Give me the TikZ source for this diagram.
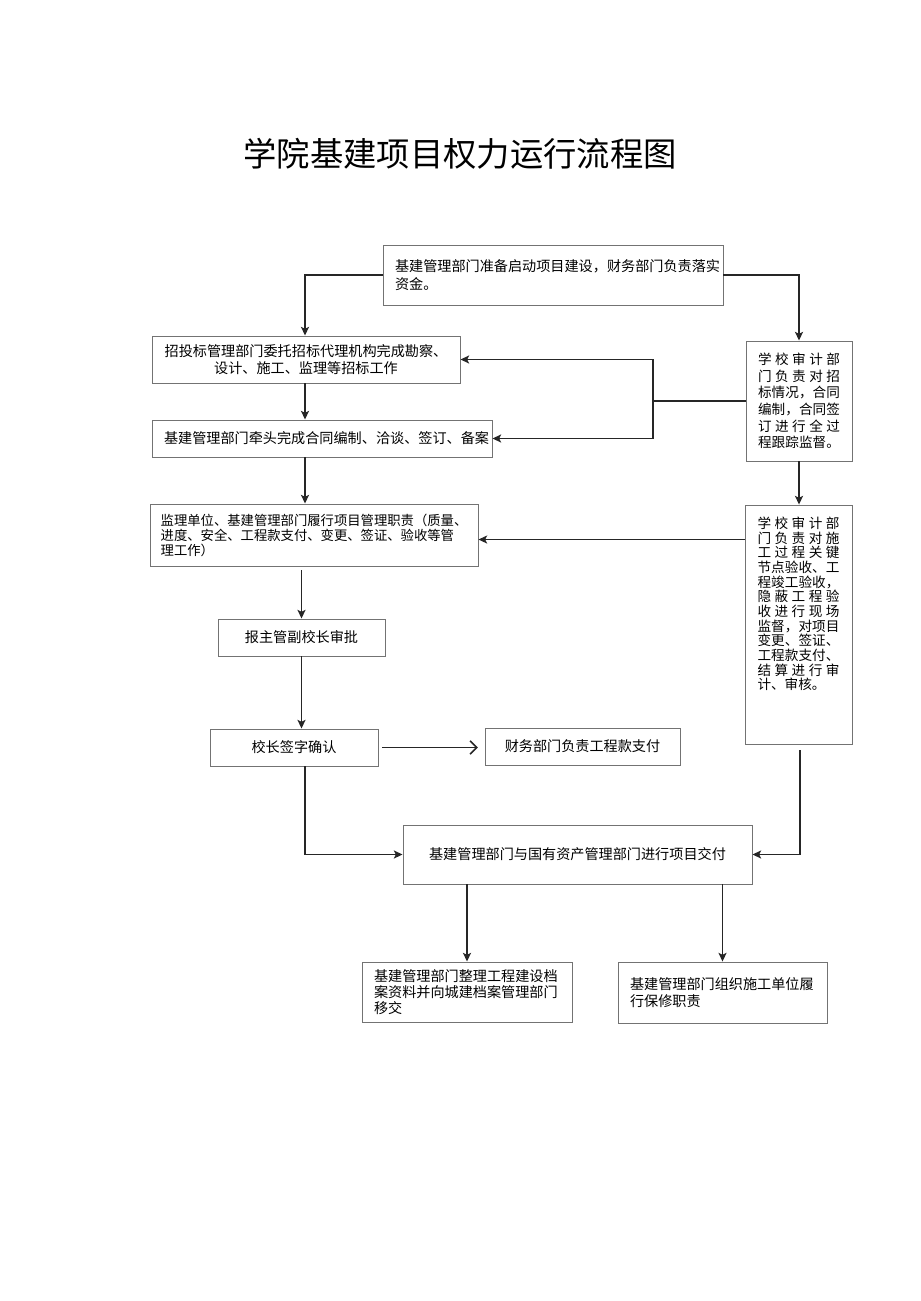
\documentclass[tikz,border=0pt]{standalone}
\usepackage{fontspec}
\setmainfont{Noto Sans CJK SC}
\usetikzlibrary{arrows.meta,calc}
\newcommand\dl[1]{\makebox[61.5pt][s]{#1}}
\begin{document}
\begin{tikzpicture}[x=0.75pt,y=-0.75pt,
  box/.style={draw=black!55,line width=0.7pt,fill=white,inner xsep=9pt,inner ysep=0pt,
    font=\fontsize{10.6pt}{12.5pt}\selectfont},
  arr/.style={draw=black!85,line width=1.2pt,-{Stealth[length=6.5pt,width=6pt,inset=1.5pt]}},
  ln/.style={draw=black!85,line width=1.2pt},
  open/.style={draw=black!85,line width=1.2pt,-{Straight Barb[length=5pt,width=10pt,line width=1.2pt]}}]
\useasboundingbox[fill=white] (0,0) rectangle (920,1301);

\node[font=\fontsize{25pt}{30pt}\selectfont] (title) at (460,154) {学院基建项目权力运行流程图};

\node[box,text width=237pt,minimum height=45pt,align=left,font=\fontsize{10.6pt}{13.5pt}\selectfont] (top) at (553,275)
  {基建管理部门准备启动项目建设，财务部门负责落实\\资金。\\[2pt]};
\node[box,text width=213pt,minimum height=35.25pt,align=center] (A) at (306,359.5)
  {招投标管理部门委托招标代理机构完成勘察、\\设计、施工、监理等招标工作};
\node[box,text width=237pt,minimum height=27.75pt,align=center] (B) at (322,438.5)
  {基建管理部门牵头完成合同编制、洽谈、签订、备案};
\node[box,text width=61.5pt,minimum height=90pt,inner xsep=9pt,align=left,
  font=\fontsize{10.2pt}{12.5pt}\selectfont] (R1) at (799,401)
  {\dl{学\hfill 校\hfill 审\hfill 计\hfill 部}\\
   \dl{门\hfill 负\hfill 责\hfill 对\hfill 招}\\
   \dl{标\hfill 情\hfill 况\hfill ，\hfill 合\hfill 同}\\
   \dl{编\hfill 制\hfill ，\hfill 合\hfill 同\hfill 签}\\
   \dl{订\hfill 进\hfill 行\hfill 全\hfill 过}\\
   \dl{程\hfill 跟\hfill 踪\hfill 监\hfill 督\hfill 。}};
\node[box,text width=230pt,minimum height=46.5pt,inner xsep=8pt,align=left,
  font=\fontsize{10pt}{11.3pt}\selectfont] (C) at (314,535)
  {监理单位、基建管理部门履行项目管理职责（质量、\\进度、安全、工程款支付、变更、签证、验收等管\\理工作）};
\node[box,minimum width=80.25pt,minimum height=179.25pt] (R2) at (798.5,624.5) {};
\node[anchor=north,inner sep=0pt,align=left,font=\fontsize{10.2pt}{11pt}\selectfont] (R2t) at ($(R2.north)+(0,12)$)
  {\dl{学\hfill 校\hfill 审\hfill 计\hfill 部}\\
   \dl{门\hfill 负\hfill 责\hfill 对\hfill 施}\\
   \dl{工\hfill 过\hfill 程\hfill 关\hfill 键}\\
   \dl{节\hfill 点\hfill 验\hfill 收\hfill 、\hfill 工}\\
   \dl{程\hfill 竣\hfill 工\hfill 验\hfill 收\hfill ，}\\
   \dl{隐\hfill 蔽\hfill 工\hfill 程\hfill 验}\\
   \dl{收\hfill 进\hfill 行\hfill 现\hfill 场}\\
   \dl{监\hfill 督\hfill ，\hfill 对\hfill 项\hfill 目}\\
   \dl{变\hfill 更\hfill 、\hfill 签\hfill 证\hfill 、}\\
   \dl{工\hfill 程\hfill 款\hfill 支\hfill 付\hfill 、}\\
   \dl{结\hfill 算\hfill 进\hfill 行\hfill 审}\\
   \makebox[61.5pt][l]{计、审核。}};
\node[box,text width=107.25pt,minimum height=27.75pt,align=center] (D) at (301.5,637.5) {报主管副校长审批};
\node[box,text width=108pt,minimum height=27.75pt,align=center] (E) at (294,747.5) {校长签字确认};
\node[box,text width=128.25pt,minimum height=27.75pt,align=center] (F) at (582.5,746.5) {财务部门负责工程款支付};
\node[box,text width=243.75pt,minimum height=44.25pt,align=center] (G) at (577.5,854.5) {基建管理部门与国有资产管理部门进行项目交付};
\node[box,text width=139.5pt,minimum height=45pt,align=left,font=\fontsize{10.6pt}{12pt}\selectfont] (H) at (467,992)
  {基建管理部门整理工程建设档\\案资料并向城建档案管理部门\\移交};
\node[box,text width=138.75pt,minimum height=45.75pt,align=left,font=\fontsize{10.6pt}{12.5pt}\selectfont] (I) at (722.5,992.5)
  {基建管理部门组织施工单位履\\行保修职责\\[4pt]};

% connectors
\coordinate (a1) at (305,0);
\draw[arr] (top.west) -| (a1 |- A.north);
\draw[arr] (top.east) -| (R1.north);
\draw[arr] (a1 |- A.south) -- (a1 |- B.north);
\coordinate (j) at (653,401);
\draw[ln] (R1.west) -- (j);
\draw[arr] (j) |- (A.east);
\draw[arr] (j) |- (B.east);
\draw[arr] (a1 |- B.south) -- (a1 |- C.north);
\draw[arr] (R1.south) -- (R1.south |- R2.north);
\coordinate (r2c) at ($(R2.north west)+(0,35)$);
\draw[arr] (r2c) -- (r2c -| C.east);
\draw[arr,shorten <=3pt] (D.north |- C.south) -- (D.north);
\draw[arr] (D.south) -- (D.south |- E.north);
\draw[open,shorten <=3pt,shorten >=5pt] (E.east) -- (F.west |- E.east);
\coordinate (e1) at (305,0);
\draw[arr] (e1 |- E.south) |- (G.west);
\coordinate (r2b) at ($(R2.south)+(1.5,6)$);
\draw[arr] (r2b) |- (G.east);
\draw[arr] (H.north |- G.south) -- (H.north);
\draw[arr] (I.north |- G.south) -- (I.north);
\end{tikzpicture}
\end{document}
